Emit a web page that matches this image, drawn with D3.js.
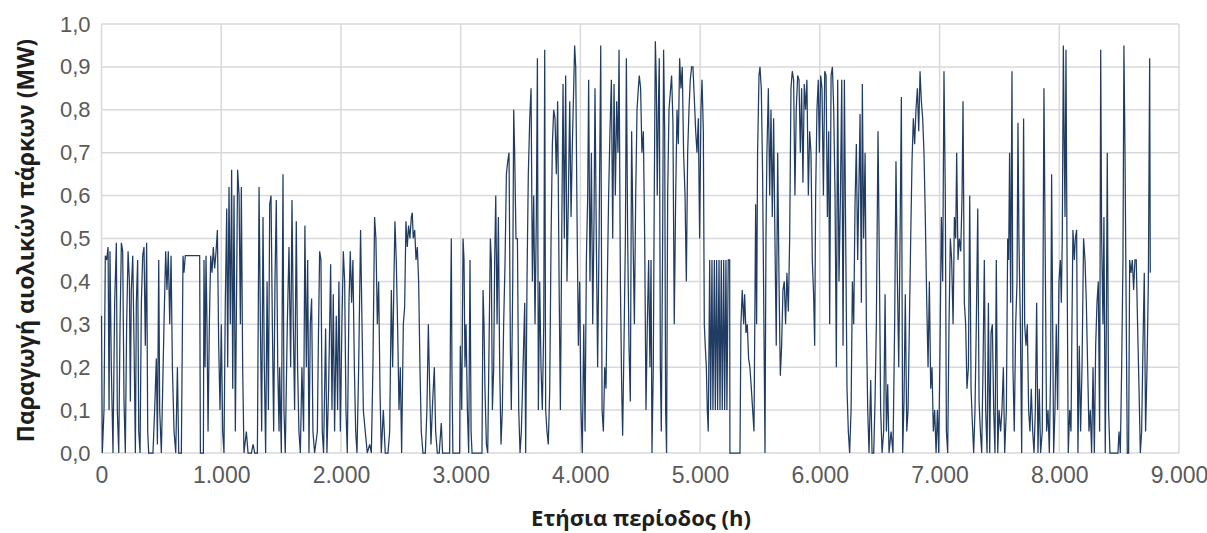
<!DOCTYPE html>
<html>
<head>
<meta charset="utf-8">
<script src="https://cdn.jsdelivr.net/npm/d3@7"></script>
<style>
  body { margin: 0; background: #fff; }
  svg { display: block; }
  .tick text { font-family: 'Liberation Sans', Arial, sans-serif; fill: #5a5a5a; }
  .title { font-family: 'Open Sans', 'Liberation Sans', sans-serif; font-weight: bold; fill: #1e1e1e; }
</style>
</head>
<body>
<svg id="wind-chart" width="1207" height="533"></svg>
<script>
// hourly wind park output, vertices: [hour, MW]
const windPoints = [
  [0,0.32],[7,0],[21,0.1],[32,0.46],[43,0.45],[55,0.48],[63,0.1],[71,0.47],[82,0.2],[96,0],
  [110,0.35],[124,0.49],[132,0.1],[144,0],[155,0.3],[166,0.49],[177,0.47],[188,0.12],[199,0],[210,0.3],
  [222,0.47],[233,0.4],[241,0.12],[249,0.38],[261,0.46],[272,0.25],[283,0],[291,0.35],[302,0.45],[311,0.05],
  [322,0],[333,0.35],[344,0.46],[355,0.48],[366,0.25],[377,0.49],[386,0.05],[394,0],[430,0],[444,0.1],
  [458,0.22],[467,0.02],[478,0.45],[486,0.1],[500,0],[522,0.3],[536,0.47],[547,0.38],[558,0.47],[570,0.3],
  [581,0.46],[592,0.2],[606,0.05],[620,0],[634,0.2],[645,0],[667,0],[681,0.46],[689,0.42],[700,0.46],
  [820,0.46],[826,0],[851,0],[856,0.45],[865,0.2],[873,0.46],[881,0.3],[890,0.05],[901,0.3],[912,0.46],
  [923,0.42],[934,0.48],[945,0.43],[957,0.47],[968,0.52],[979,0.25],[990,0.1],[1001,0.3],[1012,0.05],[1023,0],
  [1034,0.35],[1046,0.57],[1054,0.2],[1065,0.62],[1076,0.3],[1087,0.66],[1096,0.15],[1107,0.6],[1118,0.05],[1129,0.4],
  [1137,0.66],[1149,0.6],[1160,0.3],[1168,0.62],[1179,0.2],[1190,0],[1210,0.05],[1224,0],[1252,0],[1266,0.02],
  [1280,0],[1302,0],[1316,0.62],[1327,0.3],[1338,0.05],[1349,0.55],[1360,0.2],[1371,0],[1383,0.4],[1394,0.1],
  [1405,0.58],[1416,0.6],[1427,0.3],[1438,0.05],[1449,0.4],[1460,0.59],[1472,0.2],[1483,0.05],[1488,0.2],[1502,0],
  [1516,0.65],[1524,0.1],[1535,0],[1552,0.3],[1566,0.48],[1580,0.2],[1591,0.59],[1602,0.3],[1613,0.1],[1627,0.54],
  [1638,0.2],[1649,0.05],[1661,0],[1674,0.2],[1688,0.05],[1699,0.53],[1711,0.2],[1722,0.45],[1733,0],[1744,0.3],
  [1755,0.36],[1766,0.05],[1780,0],[1803,0.05],[1811,0.25],[1822,0.47],[1833,0.45],[1844,0.05],[1855,0],[1872,0.29],
  [1883,0],[1897,0.15],[1914,0.44],[1925,0.1],[1936,0.37],[1947,0.05],[1961,0.32],[1972,0.1],[1983,0.4],[1995,0.05],
  [2008,0.3],[2020,0.47],[2031,0.4],[2042,0.1],[2053,0],[2067,0.35],[2078,0.47],[2089,0.35],[2100,0.45],[2112,0.2],
  [2123,0.05],[2134,0],[2148,0.2],[2164,0.52],[2176,0.3],[2187,0.1],[2203,0.05],[2220,0],[2240,0.02],[2254,0],
  [2267,0.2],[2281,0.55],[2292,0.5],[2304,0.3],[2315,0.4],[2326,0.15],[2337,0],[2354,0.1],[2370,0],[2393,0],
  [2407,0.05],[2421,0.38],[2432,0.2],[2443,0.41],[2451,0.54],[2462,0.45],[2473,0.3],[2485,0.1],[2496,0.2],[2507,0],
  [2521,0.3],[2532,0.34],[2543,0.54],[2554,0.48],[2565,0.53],[2576,0.5],[2588,0.55],[2596,0.56],[2604,0.5],[2616,0.52],
  [2627,0.45],[2638,0.48],[2649,0.4],[2660,0.2],[2671,0.05],[2685,0],[2705,0],[2718,0.1],[2730,0.3],[2741,0.15],
  [2752,0.02],[2766,0.12],[2780,0.2],[2791,0.05],[2805,0],[2821,0],[2838,0.07],[2849,0],[2908,0],[2916,0.35],
  [2922,0.5],[2927,0.2],[2935,0],[2991,0],[2997,0.25],[3009,0.1],[3020,0.5],[3028,0.45],[3036,0.2],[3045,0.3],
  [3056,0.1],[3067,0],[3078,0.45],[3087,0.05],[3095,0],[3178,0],[3187,0.38],[3195,0.3],[3203,0.15],[3215,0.02],
  [3226,0],[3237,0.25],[3248,0.5],[3256,0.45],[3265,0.1],[3276,0.2],[3284,0.45],[3293,0.6],[3304,0.3],[3315,0.55],
  [3326,0.2],[3337,0.02],[3348,0.1],[3359,0.3],[3371,0.45],[3382,0.65],[3393,0.68],[3404,0.7],[3415,0.25],[3423,0.1],
  [3435,0.4],[3443,0.8],[3451,0.7],[3462,0.5],[3474,0.5],[3485,0.1],[3496,0],[3507,0.05],[3521,0.2],[3535,0.35],
  [3543,0],[3554,0.4],[3565,0.65],[3577,0.78],[3588,0.85],[3599,0.4],[3610,0.6],[3621,0.3],[3632,0.55],[3641,0.92],
  [3649,0.1],[3660,0.4],[3671,0.2],[3682,0.1],[3694,0.3],[3702,0.94],[3710,0.1],[3721,0.05],[3732,0.02],[3744,0.15],
  [3755,0.5],[3766,0.72],[3777,0.8],[3788,0.78],[3799,0.65],[3810,0.82],[3822,0.4],[3833,0.1],[3844,0.5],[3855,0.86],
  [3866,0.5],[3877,0.88],[3888,0.4],[3900,0.6],[3911,0.82],[3922,0.55],[3933,0.72],[3944,0.85],[3952,0.95],[3961,0.9],
  [3972,0.55],[3983,0.25],[3994,0.4],[4005,0.1],[4016,0],[4028,0.3],[4039,0.05],[4050,0.45],[4061,0.6],[4069,0.87],
  [4080,0.4],[4092,0.7],[4103,0.3],[4114,0.55],[4122,0.85],[4133,0.5],[4144,0.2],[4156,0.5],[4170,0.95],[4181,0.1],
  [4192,0.05],[4203,0.2],[4214,0.15],[4225,0.4],[4236,0.6],[4247,0.75],[4259,0.87],[4270,0.5],[4281,0.86],[4292,0.6],
  [4303,0.82],[4314,0.7],[4323,0.94],[4334,0.4],[4345,0.15],[4353,0.04],[4364,0.25],[4376,0.5],[4384,0.92],[4395,0.5],
  [4406,0.25],[4417,0.12],[4428,0.75],[4440,0.5],[4451,0.3],[4462,0.6],[4473,0.8],[4484,0.85],[4492,0.88],[4503,0.85],
  [4514,0.7],[4526,0.75],[4537,0.5],[4548,0.1],[4559,0.3],[4570,0.45],[4581,0.2],[4590,0.45],[4598,0],[4609,0.2],
  [4617,0.6],[4626,0.96],[4634,0.87],[4642,0.6],[4651,0.8],[4659,0.92],[4668,0.2],[4676,0.05],[4687,0.5],[4695,0.94],
  [4704,0.75],[4712,0.1],[4720,0],[4729,0.6],[4740,0.8],[4751,0.84],[4762,0.88],[4773,0.77],[4784,0.3],[4796,0.6],
  [4807,0.8],[4818,0.72],[4829,0.92],[4840,0.85],[4851,0.9],[4862,0.7],[4874,0.6],[4885,0.4],[4896,0.7],[4907,0.8],
  [4918,0.87],[4929,0.9],[4940,0.9],[4951,0.83],[4963,0.75],[4974,0.7],[4985,0.78],[4996,0.5],[5007,0.8],[5016,0.87],
  [5027,0.75],[5035,0.3],[5043,0.25],[5052,0.2],[5060,0.1],[5068,0.05],[5080,0.45],[5088,0.1],[5099,0.45],[5107,0.1],
  [5119,0.45],[5127,0.1],[5138,0.45],[5146,0.1],[5158,0.45],[5166,0.1],[5177,0.45],[5185,0.1],[5197,0.45],[5205,0.1],
  [5216,0.45],[5224,0.1],[5235,0.45],[5247,0.45],[5249,0],[5333,0],[5341,0.3],[5352,0.38],[5364,0.3],[5372,0.37],
  [5383,0.28],[5394,0.3],[5405,0.22],[5416,0.2],[5428,0.15],[5439,0.1],[5450,0.05],[5458,0.35],[5464,0.58],[5472,0.3],
  [5480,0.7],[5492,0.88],[5500,0.9],[5511,0.85],[5522,0.65],[5533,0.3],[5542,0],[5550,0.5],[5558,0.7],[5570,0.85],
  [5581,0.6],[5592,0.8],[5603,0.55],[5614,0.78],[5625,0.5],[5636,0.25],[5648,0.7],[5659,0.4],[5670,0.18],[5681,0.25],
  [5692,0.38],[5703,0.4],[5714,0.3],[5725,0.42],[5737,0.33],[5748,0.5],[5759,0.85],[5770,0.89],[5781,0.87],[5792,0.6],
  [5803,0.8],[5815,0.88],[5826,0.87],[5837,0.7],[5848,0.85],[5859,0.63],[5870,0.86],[5881,0.8],[5892,0.87],[5904,0.6],
  [5915,0.75],[5926,0.7],[5937,0.45],[5948,0.37],[5957,0.25],[5965,0.6],[5976,0.8],[5987,0.87],[5996,0.7],[6007,0.88],
  [6018,0.85],[6030,0.6],[6041,0.89],[6052,0.88],[6063,0.55],[6074,0.75],[6082,0.3],[6094,0.88],[6105,0.9],[6116,0.8],
  [6127,0.6],[6138,0.2],[6149,0.87],[6160,0.4],[6172,0.6],[6183,0.87],[6194,0.25],[6205,0.87],[6216,0.5],[6227,0.15],
  [6238,0.05],[6249,0],[6261,0.1],[6272,0.4],[6283,0.3],[6294,0.58],[6305,0.72],[6316,0.45],[6327,0.63],[6336,0.79],
  [6347,0.35],[6355,0.86],[6366,0.5],[6378,0.7],[6389,0.3],[6400,0.1],[6411,0],[6425,0.17],[6436,0],[6450,0],
  [6461,0.12],[6472,0.3],[6486,0.75],[6497,0.45],[6508,0.1],[6520,0],[6533,0.05],[6545,0.37],[6556,0.05],[6567,0.16],
  [6578,0],[6595,0.05],[6611,0],[6625,0.3],[6636,0.68],[6648,0.4],[6659,0.2],[6670,0.5],[6681,0.83],[6692,0],
  [6703,0.12],[6714,0.37],[6726,0.05],[6737,0.1],[6748,0.3],[6759,0.5],[6770,0.68],[6781,0.78],[6792,0.72],[6803,0.8],
  [6815,0.85],[6826,0.75],[6837,0.89],[6848,0.82],[6859,0.78],[6870,0.7],[6881,0.55],[6893,0.35],[6904,0.2],[6915,0.4],
  [6926,0.15],[6937,0.2],[6948,0.05],[6959,0.1],[6971,0],[6982,0.1],[6993,0],[7004,0.25],[7015,0.55],[7026,0.4],
  [7037,0.89],[7048,0.6],[7057,0.05],[7068,0],[7079,0.3],[7090,0.5],[7101,0.45],[7113,0.3],[7124,0.55],[7135,0.5],
  [7143,0.7],[7154,0.45],[7165,0.5],[7177,0.47],[7188,0.6],[7196,0.82],[7207,0.35],[7218,0.3],[7229,0.15],[7241,0.2],
  [7252,0.6],[7263,0.15],[7274,0.07],[7285,0],[7296,0.1],[7307,0.3],[7319,0.57],[7330,0.12],[7341,0.05],[7352,0],
  [7363,0.2],[7374,0.45],[7385,0.1],[7397,0],[7408,0.35],[7419,0],[7430,0.28],[7441,0.3],[7452,0.1],[7463,0],
  [7474,0.45],[7486,0],[7497,0.1],[7510,0.05],[7521,0.1],[7533,0.2],[7544,0],[7558,0.1],[7569,0.5],[7577,0.45],
  [7585,0.7],[7594,0.35],[7605,0.89],[7613,0.2],[7624,0.05],[7636,0.3],[7647,0.4],[7655,0.77],[7663,0.5],[7675,0.3],
  [7686,0],[7694,0.4],[7702,0.78],[7711,0.3],[7722,0.25],[7733,0.3],[7744,0.1],[7755,0.05],[7766,0.15],[7778,0.05],
  [7789,0],[7800,0.1],[7811,0.35],[7822,0],[7833,0.15],[7844,0],[7858,0.05],[7872,0.85],[7883,0.45],[7894,0.05],
  [7906,0.1],[7917,0],[7928,0.2],[7936,0.65],[7945,0.3],[7953,0],[7964,0.1],[7975,0.3],[7986,0.1],[7997,0.4],
  [8009,0.45],[8017,0.35],[8025,0.5],[8034,0.95],[8042,0.7],[8048,0.55],[8056,0.94],[8064,0.5],[8075,0],[8087,0.1],
  [8098,0.05],[8106,0.3],[8114,0.52],[8126,0.45],[8134,0.5],[8145,0.52],[8156,0],[8167,0.25],[8178,0.05],[8190,0.2],
  [8203,0.5],[8215,0.45],[8226,0.35],[8237,0.2],[8248,0.05],[8259,0.1],[8270,0],[8282,0.2],[8293,0],[8304,0.25],
  [8315,0.35],[8326,0.4],[8337,0.05],[8346,0.94],[8354,0.5],[8365,0.3],[8373,0.55],[8384,0],[8393,0.3],[8401,0.7],
  [8412,0.1],[8423,0],[8490,0],[8499,0.05],[8510,0],[8521,0.2],[8532,0.45],[8540,0.95],[8549,0.7],[8557,0.4],
  [8568,0],[8579,0],[8588,0.45],[8599,0.42],[8610,0.45],[8621,0.38],[8632,0.45],[8643,0.45],[8654,0.3],[8666,0.15],
  [8677,0],[8688,0.05],[8699,0.25],[8710,0.42],[8721,0.05],[8733,0.2],[8744,0.4],[8755,0.92],[8760,0.42]
]

const xTicks = [0, 1000, 2000, 3000, 4000, 5000, 6000, 7000, 8000, 9000]
const yTicks = [0, 0.1, 0.2, 0.3, 0.4, 0.5, 0.6, 0.7, 0.8, 0.9, 1.0]
const xTitle = 'Ετήσια περίοδος (h)'
const yTitle = 'Παραγωγή αιολικών πάρκων (MW)'

const margin = { left: 101.5, right: 28, top: 24, bottom: 80 }
const svg = d3.select('#wind-chart')
const width = +svg.attr('width')
const height = +svg.attr('height')

const xScale = d3.scaleLinear().domain([0, 9000]).range([margin.left, width - margin.right])
const yScale = d3.scaleLinear().domain([0, 1]).range([height - margin.bottom, margin.top])

const grecoFmt = d3.formatLocale({ decimal: ',', thousands: '.', grouping: [3], currency: ['', '€'] })

// gridlines
const grid = svg.append('g')
grid.selectAll('.hgrid')
  .data(yTicks)
  .join('line')
  .attr('x1', xScale(0)).attr('x2', xScale(9000))
  .attr('y1', d => yScale(d)).attr('y2', d => yScale(d))
  .attr('stroke', '#d9d9d9').attr('stroke-width', 1.5)
grid.selectAll('.vgrid')
  .data(xTicks)
  .join('line')
  .attr('y1', yScale(0)).attr('y2', yScale(1))
  .attr('x1', d => xScale(d)).attr('x2', d => xScale(d))
  .attr('stroke', '#d9d9d9').attr('stroke-width', 1.5)

// series
const line = d3.line().x(d => xScale(d[0])).y(d => yScale(d[1]))
svg.append('path')
  .datum(windPoints)
  .attr('d', line)
  .attr('fill', 'none')
  .attr('stroke', '#213c63')
  .attr('stroke-width', 1.25)
  .attr('stroke-linejoin', 'miter')

// axes (labels only)
const xAxis = d3.axisBottom(xScale).tickValues(xTicks).tickSize(0).tickPadding(14)
  .tickFormat(grecoFmt.format(',d'))
svg.append('g')
  .attr('transform', `translate(0,${yScale(0)})`)
  .call(xAxis)
  .call(g => g.select('.domain').remove())
  .selectAll('text').attr('font-size', 23)

const yAxis = d3.axisLeft(yScale).tickValues(yTicks).tickSize(0).tickPadding(11)
  .tickFormat(grecoFmt.format('.1f'))
svg.append('g')
  .attr('transform', `translate(${xScale(0)},0)`)
  .call(yAxis)
  .call(g => g.select('.domain').remove())
  .selectAll('text').attr('font-size', 22)

svg.append('text')
  .attr('class', 'title')
  .attr('x', 641).attr('y', 526)
  .attr('text-anchor', 'middle')
  .attr('font-size', 22)
  .text(xTitle)

svg.append('text')
  .attr('class', 'title')
  .attr('transform', `translate(34,${yScale(0.5) + 2}) rotate(-90)`)
  .attr('text-anchor', 'middle')
  .attr('font-size', 23)
  .text(yTitle)
</script>
</body>
</html>
